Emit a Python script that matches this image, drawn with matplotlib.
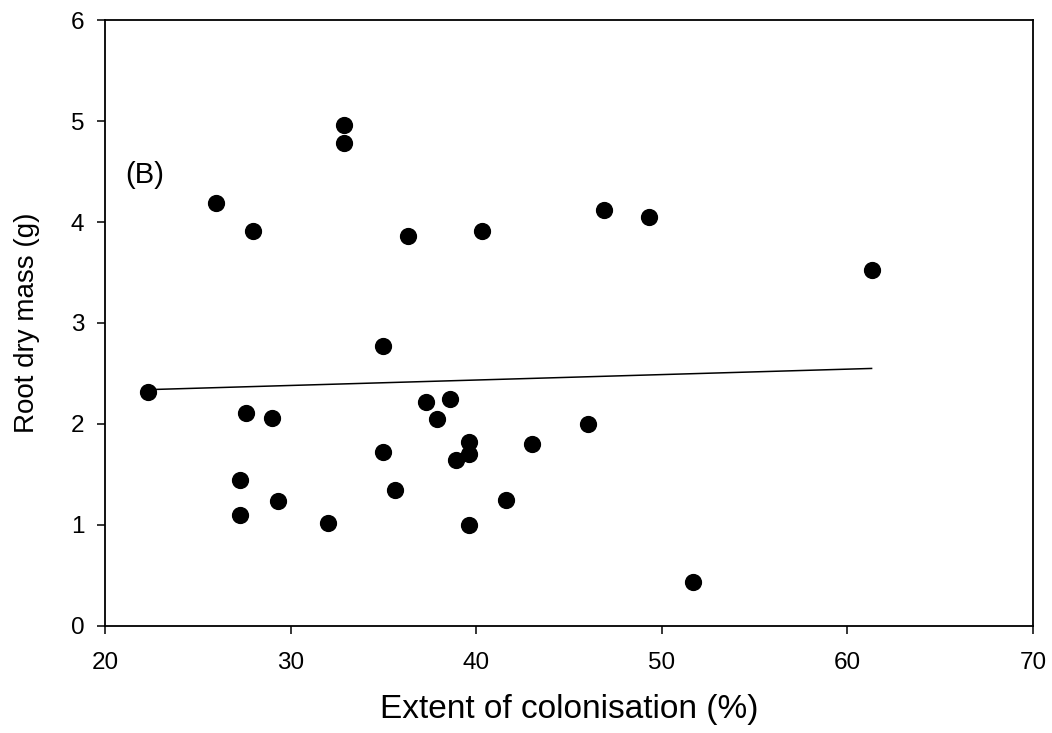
import matplotlib
matplotlib.use("Agg")
import matplotlib.pyplot as plt

# values
colonisation = [22.3, 26.0, 27.3, 27.3, 27.6, 28.0, 29.0, 29.3, 32.0, 32.9,
                32.9, 35.0, 35.0, 35.6, 36.3, 37.3, 37.9, 38.6, 38.9, 39.6,
                39.6, 39.6, 40.3, 41.6, 43.0, 46.0, 46.9, 49.3, 51.7, 61.3]
root_mass = [2.32, 4.19, 1.45, 1.10, 2.11, 3.91, 2.06, 1.24, 1.02, 4.96,
             4.78, 2.77, 1.72, 1.35, 3.86, 2.22, 2.05, 2.25, 1.64, 1.82,
             1.70, 1.00, 3.91, 1.25, 1.80, 2.00, 4.12, 4.05, 0.44, 3.52]

# regression line end points
fit_x = [22.3, 61.3]
fit_y = [2.34, 2.55]

x_ticks = [20, 30, 40, 50, 60, 70]
y_ticks = [0, 1, 2, 3, 4, 5, 6]

plt.rcParams['font.family'] = ['Liberation Sans', 'DejaVu Sans']

fig = plt.figure(figsize=(10.52, 7.33), dpi=100)
ax = fig.add_axes([0.0998, 0.146, 0.8822, 0.8267])

ax.plot(fit_x, fit_y, color='black', linewidth=1.1)
ax.scatter(colonisation, root_mass, s=130, color='black', zorder=3)

ax.set_xlim(20, 70)
ax.set_ylim(0, 6)
ax.set_xticks(x_ticks)
ax.set_yticks(y_ticks)
ax.tick_params(direction='out', length=6, width=1.1, labelsize=17.5)
ax.tick_params(axis='x', pad=13)
ax.tick_params(axis='y', pad=9)
for s in ax.spines.values():
    s.set_linewidth(1.3)

ax.set_xlabel('Extent of colonisation (%)', fontsize=24, labelpad=14)
ax.set_ylabel('Root dry mass (g)', fontsize=20, labelpad=22)
ax.text(21.1, 4.47, '(B)', fontsize=21, va='center', ha='left')

fig.savefig('out.png', dpi=100)
